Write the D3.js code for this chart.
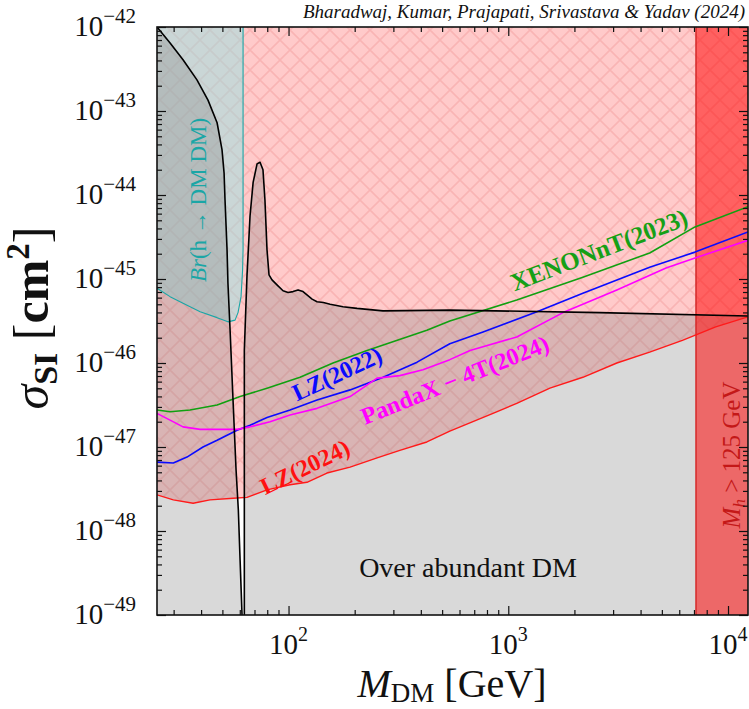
<!DOCTYPE html>
<html>
<head>
<meta charset="utf-8">
<script src="https://cdn.jsdelivr.net/npm/d3@7"></script>
<style>
  body { margin: 0; background: #ffffff; }
  svg { display: block; }
  text { font-family: "Liberation Serif", "DejaVu Serif", serif; }
</style>
</head>
<body>
<svg id="chart" width="749" height="709"></svg>
<script>
// ---- Data: DM mass (GeV) and log10 of sigma_SI (cm^2) for each curve ----

// Relic-density line (Omega h^2 = 0.12); below it DM is over-abundant
const relicMass = [25.2, 28.9, 33.1, 38.3, 43.0, 47.3, 49.8, 50.9, 51.4, 52.5, 53.0, 54.2, 55.9, 57.7, 59.1, 60.2, 61.4, 62.1, 62.5,
                   62.93, 62.93, 64.7, 66.8, 69.0, 71.9, 74.2, 76.5, 78.1, 79.8, 81.5, 84.1, 88.6, 94.4, 99.5, 104.8, 110.5, 116.4, 121.3,
                   128, 134.8, 144, 154.6, 177, 205, 269, 542, 2606, 12330];
const relicLogSigma = [-42.00, -42.19, -42.39, -42.63, -42.87, -43.14, -43.46, -43.74, -44.06, -44.65, -45.05, -45.61, -46.44, -47.27, -47.75, -48.35, -48.98, -49.42, -50.0,
                       -49.0, -45.85, -44.96, -44.25, -43.85, -43.63, -43.61, -43.70, -44.06, -44.65, -44.95, -45.01, -45.07, -45.14, -45.16, -45.15, -45.13, -45.15, -45.19,
                       -45.24, -45.27, -45.28, -45.30, -45.33, -45.35, -45.38, -45.37, -45.40, -45.44];

// Higgs invisible-width bound Br(h -> DM DM)
const brMass = [25.2, 28.9, 33.1, 39.6, 47.3, 53.0, 57.1, 58.9, 60.8, 61.8, 62.1, 62.1];
const brLogSigma = [-45.11, -45.21, -45.29, -45.39, -45.46, -45.51, -45.49, -45.40, -45.21, -44.89, -44.65, -41.9];

// Direct-detection limits
const lz2024Mass = [25.2, 29.9, 36.8, 43.9, 56.0, 64.7, 79.8, 101.6, 121.3, 149.6, 190.6, 253, 321, 426, 542, 852, 1093, 1547, 2185, 3120, 4400, 6200, 8790, 12330];
const lz2024LogSigma = [-47.57, -47.63, -47.67, -47.63, -47.61, -47.60, -47.51, -47.45, -47.42, -47.31, -47.24, -47.13, -47.04, -46.94, -46.81, -46.60, -46.48, -46.30, -46.17, -46.00, -45.87, -45.73, -45.57, -45.45];

const xenonMass = [25.2, 28.9, 35.6, 47.3, 60.2, 79.8, 112.8, 159.4, 227.6, 426, 542, 1093, 2185, 4400, 7077, 12330];
const xenonLogSigma = [-46.56, -46.58, -46.56, -46.50, -46.40, -46.30, -46.17, -46.00, -45.85, -45.61, -45.50, -45.25, -44.98, -44.69, -44.38, -44.14];

const lz2022Mass = [25.2, 29.9, 34.5, 40.8, 47.3, 58.3, 66.8, 79.8, 101.6, 134.8, 190.6, 269.6, 384.6, 542, 767.6, 1351, 2185, 4400, 7077, 12330];
const lz2022LogSigma = [-47.18, -47.19, -47.12, -47.00, -46.92, -46.80, -46.74, -46.65, -46.56, -46.44, -46.32, -46.17, -45.99, -45.77, -45.63, -45.39, -45.17, -44.86, -44.68, -44.44];

const pandaxMass = [25.2, 28.9, 33.1, 39.6, 47.3, 58.3, 66.8, 82.4, 101.6, 134.8, 190.6, 253, 321, 409, 542, 670, 1093, 1775, 3120, 5224, 7077, 12330];
const pandaxLogSigma = [-46.60, -46.68, -46.76, -46.79, -46.79, -46.79, -46.76, -46.70, -46.62, -46.54, -46.40, -46.18, -46.15, -46.08, -45.96, -45.85, -45.69, -45.40, -45.13, -44.87, -44.75, -44.54];

// Higgs-mass constraint M_h > 125 GeV holds beyond this DM mass
const higgsBoundMass = 7150;

// Axis ranges and tick decades
const massRange = [25.2, 12330];
const sigmaRange = [1e-49, 1e-42];
const xTickExponents = [2, 3, 4];
const yTickExponents = [-42, -43, -44, -45, -46, -47, -48, -49];

// ---- Layout ----
const plot = { left: 157, right: 748, top: 27, bottom: 615 };
const svg = d3.select("#chart");

const x = d3.scaleLog().domain(massRange).range([plot.left, plot.right]);
const y = d3.scaleLog().domain(sigmaRange).range([plot.bottom, plot.top]);

const pts = (ms, ls) => ms.map((m, i) => ({ m, s: Math.pow(10, ls[i]) }));
const relic = pts(relicMass, relicLogSigma);
const br = pts(brMass, brLogSigma);
const lz24 = pts(lz2024Mass, lz2024LogSigma);
const xenon = pts(xenonMass, xenonLogSigma);
const lz22 = pts(lz2022Mass, lz2022LogSigma);
const pandax = pts(pandaxMass, pandaxLogSigma);

const defs = svg.append("defs");
defs.append("clipPath").attr("id", "plotClip")
  .append("rect")
  .attr("x", plot.left).attr("y", plot.top)
  .attr("width", plot.right - plot.left).attr("height", plot.bottom - plot.top);

// Cross-hatch used for the LZ(2024) excluded region
const hatch = defs.append("pattern")
  .attr("id", "xhatch").attr("patternUnits", "userSpaceOnUse")
  .attr("width", 20).attr("height", 20);
hatch.append("rect").attr("width", 20).attr("height", 20).attr("fill", "#ffcaca");
hatch.append("path").attr("d", "M0,0L20,20M20,0L0,20")
  .attr("stroke", "rgba(220,60,60,0.16)").attr("stroke-width", 1.6).attr("fill", "none");

svg.append("rect").attr("width", 749).attr("height", 709).attr("fill", "#ffffff");

const g = svg.append("g").attr("clip-path", "url(#plotClip)");

const yTopEdge = plot.top - 10, yBottomEdge = plot.bottom + 10;
const line = d3.line().x(d => x(d.m)).y(d => y(d.s));

// Region excluded by LZ(2024): everything above the red curve
g.append("path").datum(lz24)
  .attr("d", d3.area().x(d => x(d.m)).y0(yTopEdge).y1(d => y(d.s)))
  .attr("fill", "url(#xhatch)");

// Higgs invisible decay exclusion
g.append("path").datum(br)
  .attr("d", d3.area().x(d => x(d.m)).y0(yTopEdge).y1(d => y(d.s)))
  .attr("fill", "rgb(150,226,226)").attr("fill-opacity", 0.5);

// Over-abundant DM: below the relic line
g.append("path").datum(relic)
  .attr("d", d3.area().x(d => x(d.m)).y0(yBottomEdge).y1(d => Math.min(y(d.s), yBottomEdge)))
  .attr("fill", "rgb(128,128,128)").attr("fill-opacity", 0.3);

// M_h > 125 GeV band
g.append("rect")
  .attr("x", x(higgsBoundMass)).attr("y", plot.top)
  .attr("width", plot.right - x(higgsBoundMass)).attr("height", plot.bottom - plot.top)
  .attr("fill", "rgb(255,0,0)").attr("fill-opacity", 0.52);
g.append("line")
  .attr("x1", x(higgsBoundMass)).attr("x2", x(higgsBoundMass))
  .attr("y1", plot.top).attr("y2", plot.bottom)
  .attr("stroke", "#d42a2a").attr("stroke-width", 1.5);

// Curves
const curves = [
  { data: br, color: "#1aa6a6", w: 1.1 },
  { data: xenon, color: "#10a010", w: 1.6 },
  { data: lz22, color: "#0a0aff", w: 1.6 },
  { data: pandax, color: "#ff00ff", w: 1.6 },
  { data: lz24, color: "#ff1a1a", w: 1.4 },
  { data: relic, color: "#000000", w: 1.6 }
];
curves.forEach(c => {
  g.append("path").datum(c.data).attr("d", line)
    .attr("fill", "none").attr("stroke", c.color)
    .attr("stroke-width", c.w).attr("stroke-linejoin", "round");
});

// ---- In-plot labels ----
function rotatedLabel(txt, cx, cy, angle, color, size, weight) {
  return svg.append("text")
    .attr("transform", `translate(${cx},${cy}) rotate(${angle})`)
    .attr("text-anchor", "middle").attr("dominant-baseline", "central")
    .attr("fill", color).attr("font-size", size).attr("font-weight", weight || "normal")
    .text(txt);
}
rotatedLabel("XENONnT(2023)", 599, 250, -21, "#16a016", 25, "bold");
rotatedLabel("LZ(2022)", 337, 374, -25, "#0a0aff", 24, "bold");
rotatedLabel("PandaX − 4T(2024)", 455, 380, -22, "#ff00ff", 24, "bold");
rotatedLabel("LZ(2024)", 305, 467, -26, "#ff1010", 24, "bold");

// Br(h -> DM DM) label, vertical
const brLabel = svg.append("text")
  .attr("transform", "translate(206,200) rotate(-90)")
  .attr("text-anchor", "middle").attr("fill", "#1aa6a6").attr("font-size", 23);
brLabel.append("tspan").attr("font-style", "italic").text("Br");
brLabel.append("tspan").text("(h → DM DM)");

// M_h > 125 GeV label, vertical
const mhLabel = svg.append("text")
  .attr("transform", "translate(740,455) rotate(-90)")
  .attr("text-anchor", "middle").attr("fill", "#c41818").attr("font-size", 25);
mhLabel.append("tspan").attr("font-style", "italic").text("M");
mhLabel.append("tspan").attr("font-style", "italic").attr("font-size", 17).attr("dy", 5).text("h");
mhLabel.append("tspan").attr("dy", -5).text(" > 125 GeV");

svg.append("text")
  .attr("x", 468).attr("y", 577).attr("text-anchor", "middle")
  .attr("font-size", 28).attr("fill", "#111").text("Over abundant DM");

// ---- Frame and axes ----
svg.append("rect")
  .attr("x", plot.left).attr("y", plot.top)
  .attr("width", plot.right - plot.left).attr("height", plot.bottom - plot.top)
  .attr("fill", "none").attr("stroke", "#111").attr("stroke-width", 1.6);

const minorOf = (domain) => {
  const out = [];
  const lo = Math.floor(Math.log10(domain[0])), hi = Math.ceil(Math.log10(domain[1]));
  for (let e = lo; e < hi; e++) for (let k = 2; k <= 9; k++) {
    const v = k * Math.pow(10, e);
    if (v >= domain[0] && v <= domain[1]) out.push(v);
  }
  return out;
};
const xMajor = xTickExponents.map(e => Math.pow(10, e));
const yMajor = yTickExponents.map(e => Math.pow(10, e));
const xMinor = minorOf(massRange);
const yMinor = minorOf(sigmaRange);

function tickAxis(axisFn, scale, values, size, transform) {
  const a = svg.append("g").attr("transform", transform)
    .call(axisFn(scale).tickValues(values).tickSize(-size).tickFormat(""));
  a.select(".domain").remove();
  a.selectAll(".tick line").attr("stroke", "#111").attr("stroke-width", 1.2);
  return a;
}
tickAxis(d3.axisBottom, x, xMajor, 9, `translate(0,${plot.bottom})`);
tickAxis(d3.axisBottom, x, xMinor, 5, `translate(0,${plot.bottom})`);
tickAxis(d3.axisTop, x, xMajor, 9, `translate(0,${plot.top})`);
tickAxis(d3.axisTop, x, xMinor, 5, `translate(0,${plot.top})`);
tickAxis(d3.axisLeft, y, yMajor, 9, `translate(${plot.left},0)`);
tickAxis(d3.axisLeft, y, yMinor, 5, `translate(${plot.left},0)`);
tickAxis(d3.axisRight, y, yMajor, 9, `translate(${plot.right},0)`);
tickAxis(d3.axisRight, y, yMinor, 5, `translate(${plot.right},0)`);

// Power-of-ten tick labels
xTickExponents.forEach(e => {
  const t = svg.append("text").attr("x", x(Math.pow(10, e))).attr("y", 654)
    .attr("text-anchor", "middle").attr("font-size", 29).attr("fill", "#111");
  t.append("tspan").text("10");
  t.append("tspan").attr("font-size", 20).attr("dy", -13).text(String(e));
});
yTickExponents.forEach(e => {
  const t = svg.append("text").attr("x", 136).attr("y", y(Math.pow(10, e)) + 9)
    .attr("text-anchor", "end").attr("font-size", 29).attr("fill", "#111");
  t.append("tspan").text("10");
  t.append("tspan").attr("font-size", 21).attr("dy", -13).text("−" + Math.abs(e));
});

// Axis titles
const xt = svg.append("text").attr("x", 452).attr("y", 697)
  .attr("text-anchor", "middle").attr("font-size", 40).attr("fill", "#111");
xt.append("tspan").attr("font-style", "italic").text("M");
xt.append("tspan").attr("font-size", 27).attr("dy", 5).text("DM");
xt.append("tspan").attr("dy", -5).text(" [GeV]");

const yt = svg.append("text").attr("transform", `translate(48,318) rotate(-90)`)
  .attr("text-anchor", "middle").attr("font-size", 50).attr("fill", "#111");
yt.append("tspan").attr("font-style", "italic").text("σ");
yt.append("tspan").attr("font-weight", "bold").attr("font-size", 34).attr("dy", 9).text("SI");
yt.append("tspan").attr("dy", -9).text(" [");
yt.append("tspan").attr("font-weight", "bold").text("cm");
yt.append("tspan").attr("font-weight", "bold").attr("font-size", 33).attr("dy", -19).text("2");
yt.append("tspan").attr("dy", 19).text("]");

// Author line
svg.append("text").attr("x", 745).attr("y", 18).attr("text-anchor", "end")
  .attr("font-size", 19).attr("font-style", "italic").attr("fill", "#111")
  .text("Bharadwaj, Kumar, Prajapati, Srivastava & Yadav (2024)");
</script>
</body>
</html>
